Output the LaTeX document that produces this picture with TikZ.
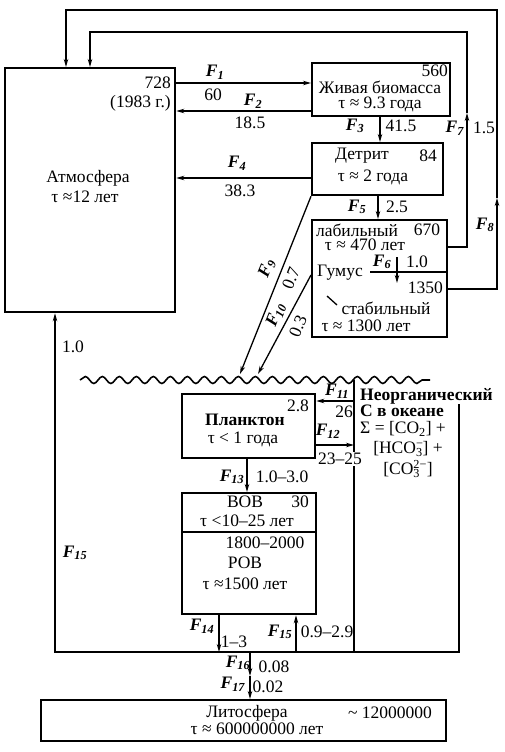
\documentclass[tikz,border=0pt]{standalone}
\usepackage{fontspec}
\setmainfont{Liberation Serif}
\usepackage{tikz}
\usetikzlibrary{positioning,arrows.meta,decorations.pathmorphing}

\newcommand{\flx}[1]{\textbf{\textit{F}}\textsubscript{\textbf{\textit{#1}}}}

\begin{document}
\begin{tikzpicture}[x=1pt, y=-1pt,
  font=\fontsize{17.5}{19}\selectfont,
  serb/.style={draw, line width=2.3pt, inner sep=0pt, anchor=north west},
  flusso/.style={-{Stealth[length=8pt,width=4.5pt]}, line width=1.3pt},
  linea/.style={line width=1.3pt},
  onda/.style={decorate, decoration={snake, segment length=17pt, amplitude=3.5pt}, line width=1.6pt},
  txt/.style={inner sep=0pt},
  ]
  \useasboundingbox (0,0) rectangle (504,752);

  % Serbatoi
  \node[serb, minimum width=170pt, minimum height=244pt] (atm) at (4,67) {};
  \node[serb, minimum width=138pt, minimum height=53pt] (bio) at (311,62) {};
  \node[serb, minimum width=131pt, minimum height=52pt] (det) at (311,142) {};
  \node[serb, minimum width=135pt, minimum height=117pt] (hum) at (311,219) {};
  \node[serb, minimum width=133pt, minimum height=64pt] (plk) at (181,393) {};
  \node[serb, minimum width=134pt, minimum height=121pt] (dob) at (181,492) {};
  \node[serb, minimum width=405pt, minimum height=41pt] (lit) at (40,699) {};
  \draw[linea] (dob.west |- 0,532) -- (dob.east |- 0,532);
  \draw[linea] (370,272) -- (hum.east |- 0,272);
  \draw[linea] (327,296) -- (337,305);

  \node[txt, anchor=east] (v728) at (171,83) {728};
  \node[txt, below=6pt of v728.south east, anchor=north east] (v1983) {(1983 г.)};
  \node[txt] (tatm) at (88,178) {Атмосфера};
  \node[txt] (tauatm) at (85,197) {τ ≈12 лет};

  \node[txt, anchor=east] (v560) at (448,71) {560};
  \node[txt] (tbio) at (380,87) {Живая биомасса};
  \node[txt] (taubio) at (380,104) {τ ≈ 9.3 года};

  \node[txt] (tdet) at (362,156) {Детрит};
  \node[txt] (v84) at (428,156) {84};
  \node[txt] (taudet) at (373,177) {τ ≈ 2 года};

  \node[txt] (tlab) at (357,230) {лабильный};
  \node[txt] (v670) at (427,230) {670};
  \node[txt] (taulab) at (365,245) {τ ≈ 470 лет};
  \node[txt] (tgum) at (340,273) {Гумус};
  \node[txt, anchor=east] (v1350) at (443,288) {1350};
  \node[txt] (tstab) at (386,308) {стабильный};
  \node[txt] (taustab) at (366,326) {τ ≈ 1300 лет};

  \node[txt, font=\fontsize{17.5}{19}\selectfont\bfseries] (tplk) at (245,420) {Планктон};
  \node[txt] (tauplk) at (243,439) {τ < 1 года};
  \node[txt] (v28) at (298,406) {2.8};

  \node[txt] (tvov) at (245,502) {ВОВ};
  \node[txt] (v30) at (300,502) {30};
  \node[txt] (tauvov) at (247,521) {τ <10–25 лет};
  \node[txt] (v1800) at (265,543) {1800–2000};
  \node[txt] (trov) at (245,563) {РОВ};
  \node[txt] (taurov) at (245,584) {τ ≈1500 лет};

  \node[txt] (tlit) at (247,713) {Литосфера};
  \node[txt] (vlit) at (390,713) {\textasciitilde\ 12000000};
  \node[txt] (taulit) at (257,729) {τ ≈ 600000000 лет};

  \node[txt, anchor=west, font=\fontsize{17.5}{19}\selectfont\bfseries] (tinorg) at (360,396) {Неорганический};
  \node[txt, anchor=west, font=\fontsize{17.5}{19}\selectfont\bfseries] (tocean) at (360,411) {С в океане};
  \node[txt, anchor=west] (tsum) at (360,429) {Σ = [CO\textsubscript{2}] +};
  \node[txt] (thco) at (408,449) {[HCO\rlap{\textsuperscript{−}}\textsubscript{3}] +};
  \node[txt] (tco) at (408,469) {[CO\rlap{\textsubscript{3}}\textsuperscript{2−}]};

  % Flussi
  \draw[flusso] (atm.east |- 0,83) -- (bio.west |- 0,83);
  \draw[flusso] (bio.west |- 0,111) -- (atm.east |- 0,111);
  \draw[flusso] (bio.south -| 380,0) -- (det.north -| 380,0);
  \draw[flusso] (det.west |- 0,178) -- (atm.east |- 0,178);
  \draw[flusso] (det.south -| 378,0) -- (hum.north -| 378,0);
  \coordinate (a6) at (397,257);
  \coordinate (b6) at (397,283);
  \draw[flusso] (a6) -- (b6);

  \coordinate (m7) at (467,113);
  \coordinate (k7) at (90,32);
  \draw[flusso] (hum.east |- 0,247) -| (m7);
  \draw[flusso] (m7) |- (k7) -- (atm.north -| k7);
  \coordinate (m8) at (497,198);
  \coordinate (k8) at (66,10);
  \draw[flusso] (hum.east |- 0,289) -| (m8);
  \draw[flusso] (m8) |- (k8) -- (atm.north -| k8);

  \coordinate (w9) at (240,374);
  \coordinate (w10) at (258,374);
  \draw[flusso] (det.south west) -- (w9);
  \draw[flusso] (hum.west |- 0,275) -- (w10);

  \coordinate (ol) at (80,380);
  \coordinate (or) at (430,380);
  \draw[onda] (ol) -- (or);

  \coordinate (ia) at (354,380);
  \coordinate (ic) at (459,404);
  \coordinate (fb) at (55,652);
  \draw[linea] (ia) -- (ia |- fb);
  \draw[flusso] (ic) |- (fb) -- (atm.south -| fb);
  \draw[flusso] (ia |- 0,401) -- (plk.east |- 0,401);
  \draw[flusso] (plk.east |- 0,445) -- (ia |- 0,445);
  \draw[flusso] (plk.south -| 247,0) -- (dob.north -| 247,0);
  \draw[flusso] (dob.south -| 219,0) -- (219,0 |- fb);
  \draw[flusso] (296,0 |- fb) -- (dob.south -| 296,0);
  \coordinate (m16) at (250,676);
  \draw[flusso] (250,0 |- fb) -- (m16);
  \draw[flusso] (m16) -- (lit.north -| m16);

  % Etichette
  \node[txt] (f1) at (215,72) {\flx{1}};
  \node[txt] (q1) at (213,95) {60};
  \node[txt] (f2) at (253,101) {\flx{2}};
  \node[txt] (q2) at (250,123) {18.5};
  \node[txt] (f3) at (355,126) {\flx{3}};
  \node[txt] (q3) at (401,126) {41.5};
  \node[txt] (f7) at (455,128) {\flx{7}};
  \node[txt] (q7) at (484,128) {1.5};
  \node[txt] (f4) at (237,163) {\flx{4}};
  \node[txt] (q4) at (240,191) {38.3};
  \node[txt] (f5) at (357,207) {\flx{5}};
  \node[txt] (q5) at (397,207) {2.5};
  \node[txt] (f8) at (485,225) {\flx{8}};
  \node[txt] (f6) at (382,262) {\flx{6}};
  \node[txt] (q6) at (417,262) {1.0};
  \node[txt, rotate=68] (f9) at (267,268) {\flx{9}};
  \node[txt, rotate=68] (q9) at (291,278) {0.7};
  \node[txt, rotate=68] (f10) at (276,315) {\flx{10}};
  \node[txt, rotate=68] (q10) at (298,326) {0.3};
  \node[txt] (qatm) at (73,347) {1.0};
  \node[txt] (f11) at (337,391) {\flx{11}};
  \node[txt] (q11) at (344,412) {26};
  \node[txt] (f12) at (328,431) {\flx{12}};
  \node[txt, fill=white, inner sep=1pt] (q12) at (340,459) {23–25};
  \node[txt] (f13) at (232,477) {\flx{13}};
  \node[txt] (q13) at (282,477) {1.0–3.0};
  \node[txt] (f15l) at (75,553) {\flx{15}};
  \node[txt] (f14) at (202,626) {\flx{14}};
  \node[txt] (q14) at (234,642) {1–3};
  \node[txt] (f15) at (280,632) {\flx{15}};
  \node[txt] (q15) at (327,632) {0.9–2.9};
  \node[txt] (f16) at (238,663) {\flx{16}};
  \node[txt] (q16) at (274,667) {0.08};
  \node[txt] (f17) at (233,684) {\flx{17}};
  \node[txt] (q17) at (268,687) {0.02};
\end{tikzpicture}
\end{document}
